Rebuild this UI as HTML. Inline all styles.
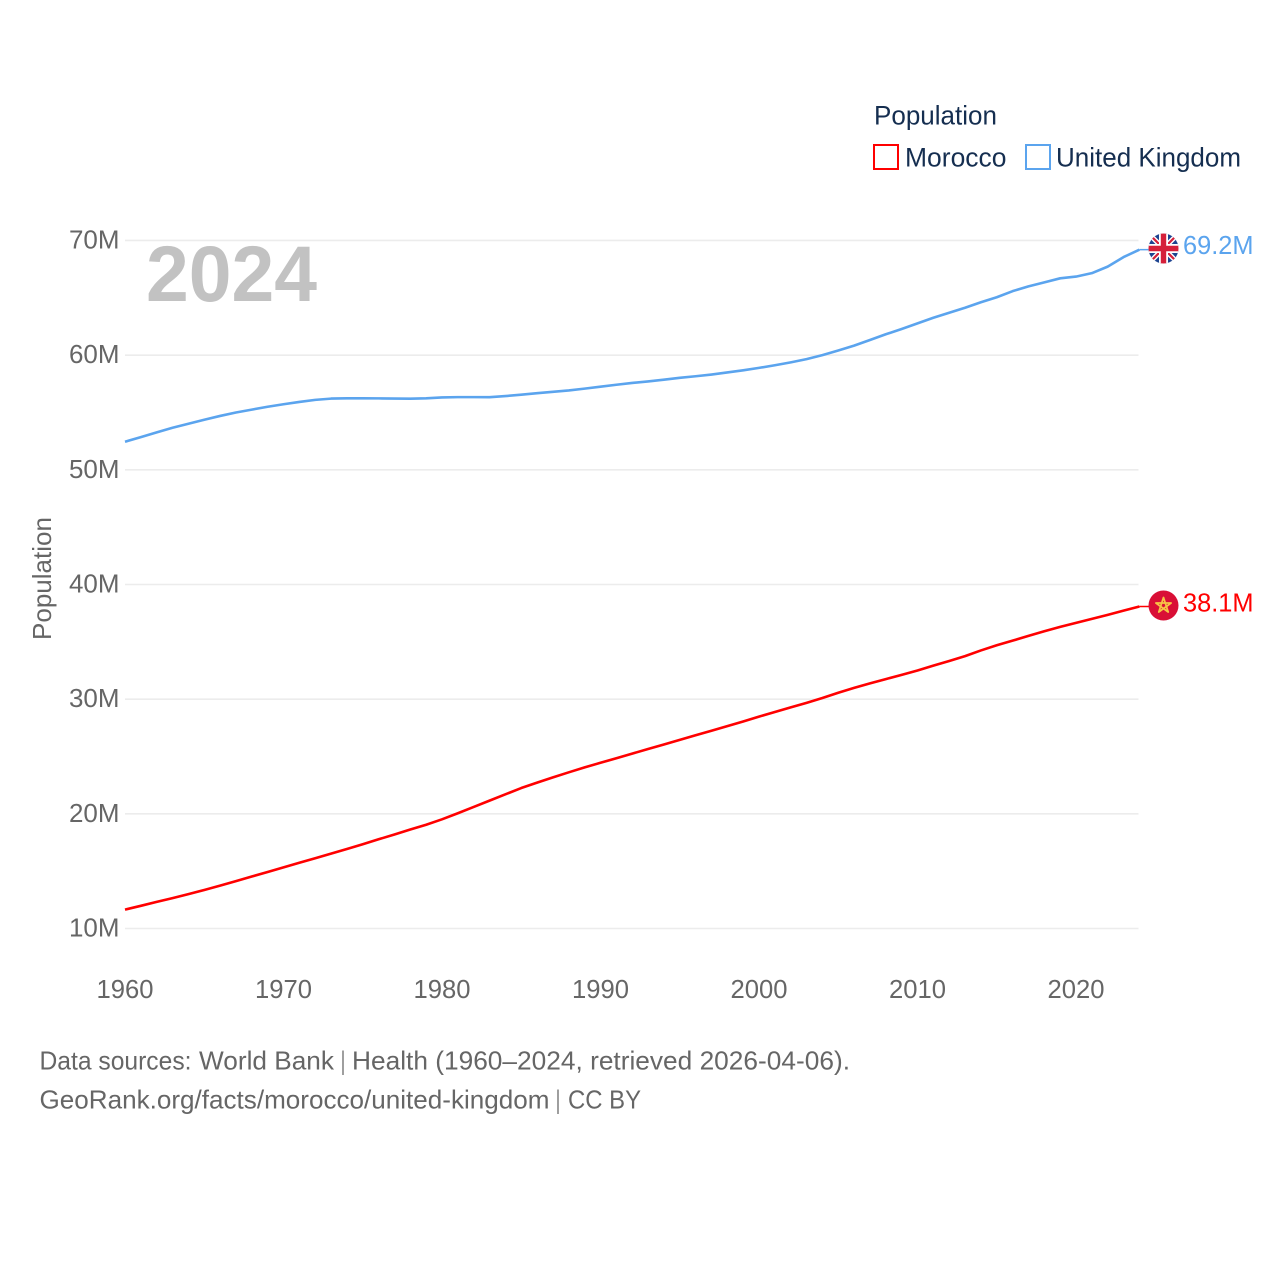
<!DOCTYPE html>
<html lang="en">
<head>
<meta charset="utf-8">
<title>Population: Morocco and United Kingdom</title>
<style>
html,body{margin:0;padding:0;background:#fff;width:1280px;height:1280px;overflow:hidden}
svg{display:block}
text{font-family:"Liberation Sans",sans-serif}
</style>
</head>
<body>
<svg id="chart" width="1280" height="1280" viewBox="0 0 1280 1280" xmlns="http://www.w3.org/2000/svg">
  <defs>
    <clipPath id="uk-clip"><circle cx="1163.5" cy="248.5" r="15"/></clipPath>
    <clipPath id="ma-clip"><circle cx="1163.5" cy="605.5" r="15"/></clipPath>
  </defs>
  <g id="grid"></g>
  <g id="y-ticks"></g>
  <g id="x-ticks"></g>
  <text x="146" y="301" font-size="79" font-weight="700" fill="#c2c2c2" textLength="171" lengthAdjust="spacingAndGlyphs">2024</text>
  <text transform="translate(51,640) rotate(-90)" font-size="25.6" fill="#666" textLength="123" lengthAdjust="spacingAndGlyphs">Population</text>
  <path id="line-uk" fill="none" stroke="#5ba4ee" stroke-width="2.6" stroke-linejoin="round"/>
  <path id="line-ma" fill="none" stroke="#ff0000" stroke-width="2.6" stroke-linejoin="round"/>
  <path id="lead-uk" fill="none" stroke="#5ba4ee" stroke-width="1.5"/>
  <path id="lead-ma" fill="none" stroke="#ff0000" stroke-width="1.5"/>

  <g clip-path="url(#uk-clip)">
    <rect x="1148" y="233" width="31" height="31" fill="#1c4390"/>
    <path d="M1148 233L1179 264M1179 233L1148 264" stroke="#fff" stroke-width="5"/>
    <path d="M1148 233L1179 264M1179 233L1148 264" stroke="#d5203a" stroke-width="2.2"/>
    <path d="M1163.5 233V264M1148 248.5H1179" stroke="#fff" stroke-width="9"/>
    <path d="M1163.5 233V264M1148 248.5H1179" stroke="#d5203a" stroke-width="5.4"/>
  </g>
  <g clip-path="url(#ma-clip)">
    <rect x="1148" y="590" width="31" height="31" fill="#d90f36"/>
    <path d="M1163.5 597.5L1168.2 612L1155.9 603H1171.1L1158.8 612Z" fill="none" stroke="#f6c445" stroke-width="1.8" stroke-linejoin="round"/>
  </g>
  <text id="value-uk" x="1183" y="254" font-size="25.6" fill="#5ba4ee" textLength="70.5" lengthAdjust="spacingAndGlyphs"></text>
  <text id="value-ma" x="1183" y="611.5" font-size="25.6" fill="#ff0000" textLength="70.5" lengthAdjust="spacingAndGlyphs"></text>

  <g>
    <text x="874" y="124.5" font-size="26.5" fill="#152e50" textLength="123" lengthAdjust="spacingAndGlyphs">Population</text>
    <g>
      <rect x="874" y="145" width="24" height="24" fill="#fff" stroke="#ff0000" stroke-width="2"/>
      <text x="905" y="166.5" font-size="26.5" fill="#152e50" textLength="101.5" lengthAdjust="spacingAndGlyphs">Morocco</text>
    </g>
    <g>
      <rect x="1026" y="145" width="24" height="24" fill="#fff" stroke="#5ba4ee" stroke-width="2"/>
      <text x="1056" y="166.5" font-size="26.5" fill="#152e50" textLength="185" lengthAdjust="spacingAndGlyphs">United Kingdom</text>
    </g>
  </g>
  <text y="1069.5" font-size="25.6" fill="#666"><tspan x="39.5" textLength="152" lengthAdjust="spacingAndGlyphs">Data sources:</tspan><tspan x="199" textLength="135" lengthAdjust="spacingAndGlyphs">World Bank</tspan><tspan x="341" textLength="4" lengthAdjust="spacingAndGlyphs">|</tspan><tspan x="352" textLength="498" lengthAdjust="spacingAndGlyphs">Health (1960–2024, retrieved 2026-04-06).</tspan></text>
  <text y="1108.5" font-size="25.6" fill="#666"><tspan x="39.5" textLength="510" lengthAdjust="spacingAndGlyphs">GeoRank.org/facts/morocco/united-kingdom</tspan><tspan x="556" textLength="4" lengthAdjust="spacingAndGlyphs">|</tspan><tspan x="568" textLength="73" lengthAdjust="spacingAndGlyphs">CC BY</tspan></text>
</svg>
<script>
const years = [1960,1961,1962,1963,1964,1965,1966,1967,1968,1969,1970,1971,1972,1973,1974,1975,1976,1977,1978,1979,1980,1981,1982,1983,1984,1985,1986,1987,1988,1989,1990,1991,1992,1993,1994,1995,1996,1997,1998,1999,2000,2001,2002,2003,2004,2005,2006,2007,2008,2009,2010,2011,2012,2013,2014,2015,2016,2017,2018,2019,2020,2021,2022,2023,2024];
const moroccoValues = [11.65,11.98,12.32,12.65,13.0,13.36,13.74,14.13,14.53,14.93,15.33,15.73,16.13,16.53,16.93,17.35,17.78,18.2,18.63,19.05,19.52,20.05,20.6,21.15,21.7,22.25,22.72,23.18,23.62,24.05,24.45,24.85,25.25,25.65,26.05,26.45,26.85,27.25,27.65,28.05,28.48,28.88,29.28,29.68,30.1,30.56,30.98,31.38,31.75,32.12,32.5,32.92,33.33,33.75,34.25,34.7,35.1,35.52,35.92,36.3,36.65,37.0,37.35,37.72,38.08];
const ukValues = [52.45,52.85,53.27,53.67,54.02,54.37,54.7,55.0,55.25,55.5,55.72,55.92,56.1,56.21,56.24,56.24,56.23,56.21,56.2,56.24,56.31,56.34,56.34,56.33,56.43,56.55,56.68,56.8,56.92,57.08,57.25,57.42,57.58,57.71,57.86,58.02,58.16,58.31,58.49,58.68,58.89,59.12,59.37,59.65,60.0,60.4,60.83,61.32,61.82,62.28,62.77,63.26,63.7,64.13,64.61,65.05,65.58,66.0,66.35,66.7,66.85,67.15,67.72,68.55,69.2];
const yTickValues = [10,20,30,40,50,60,70];
const yTickLabels = ['10M','20M','30M','40M','50M','60M','70M'];
const xTickValues = [1960,1970,1980,1990,2000,2010,2020];
const xTickLabels = ['1960','1970','1980','1990','2000','2010','2020'];
const valueLabels = ['38.1M','69.2M'];

const NS = 'http://www.w3.org/2000/svg';
function xScale(year){ return 125 + (year - 1960) * 15.85; }
function yScale(v){ return 928.5 - (v - 10) * 11.467; }
function linePath(xs, ys){
  return xs.map((x, i) => (i ? 'L' : 'M') + xScale(x).toFixed(2) + ' ' + yScale(ys[i]).toFixed(2)).join('');
}
function make(tag, parent){
  const el = document.createElementNS(NS, tag);
  parent.appendChild(el);
  return el;
}

const grid = document.getElementById('grid');
const yTicks = document.getElementById('y-ticks');
const xTicks = document.getElementById('x-ticks');

yTickValues.forEach((v, i) => {
  const line = make('line', grid);
  
  
  line.setAttribute('x1', xScale(1960));
  line.setAttribute('x2', 1138.5);
  line.setAttribute('y1', yScale(v));
  line.setAttribute('y2', yScale(v));
  line.setAttribute('stroke', '#ececec');
  line.setAttribute('stroke-width', '1.6');

  const label = make('text', yTicks);
  
  
  label.setAttribute('x', 69);
  label.setAttribute('y', yScale(v) + 8);
  label.setAttribute('font-size', '25.6');
  label.setAttribute('fill', '#666');
  label.setAttribute('textLength', '50.5');
  label.setAttribute('lengthAdjust', 'spacingAndGlyphs');
  label.textContent = yTickLabels[i];
});

xTickValues.forEach((y, i) => {
  const label = make('text', xTicks);
  
  
  label.setAttribute('x', xScale(y) - 28.5);
  label.setAttribute('y', 998);
  label.setAttribute('font-size', '25.6');
  label.setAttribute('fill', '#666');
  label.setAttribute('textLength', '57');
  label.setAttribute('lengthAdjust', 'spacingAndGlyphs');
  label.textContent = xTickLabels[i];
});

document.getElementById('line-ma').setAttribute('d', linePath(years, moroccoValues));
document.getElementById('line-uk').setAttribute('d', linePath(years, ukValues));

const lastYear = years[years.length - 1];
const maY = yScale(moroccoValues[moroccoValues.length - 1]);
const ukY = yScale(ukValues[ukValues.length - 1]);
document.getElementById('lead-ma').setAttribute('d', 'M' + xScale(lastYear) + ' ' + maY + 'H1150');
document.getElementById('lead-uk').setAttribute('d', 'M' + xScale(lastYear) + ' ' + ukY + 'H1150');
document.getElementById('value-ma').textContent = valueLabels[0];
document.getElementById('value-uk').textContent = valueLabels[1];
</script>
</body>
</html>
